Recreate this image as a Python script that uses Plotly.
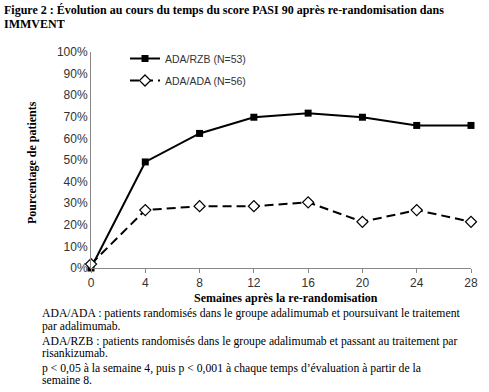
import plotly.graph_objects as go

weeks = [0, 4, 8, 12, 16, 20, 24, 28]
ada_rzb = [0.0, 0.491, 0.623, 0.698, 0.717, 0.698, 0.660, 0.660]
ada_ada = [0.018, 0.268, 0.286, 0.286, 0.304, 0.214, 0.268, 0.214]
series_names = ["ADA/RZB (N=53)", "ADA/ADA (N=56)"]
y_ticks = [0, 0.1, 0.2, 0.3, 0.4, 0.5, 0.6, 0.7, 0.8, 0.9, 1.0]
y_tick_labels = ["0%", "10%", "20%", "30%", "40%", "50%", "60%", "70%", "80%", "90%", "100%"]
x_ticks = [0, 4, 8, 12, 16, 20, 24, 28]

title_lines = [
    "Figure 2 : Évolution au cours du temps du score PASI 90 après re-randomisation dans",
    "IMMVENT",
]
y_title = "Pourcentage de patients"
x_title = "Semaines après la re-randomisation"
notes = [
    "ADA/ADA : patients randomisés dans le groupe adalimumab et poursuivant le traitement",
    "par adalimumab.",
    "ADA/RZB : patients randomisés dans le groupe adalimumab et passant au traitement par",
    "risankizumab.",
    "p < 0,05 à la semaine 4, puis p < 0,001 à chaque temps d’évaluation à partir de la",
    "semaine 8.",
]

W, H = 489, 392
L, R, T, B = 91, 18, 52, 124
PW, PH = W - L - R, H - T - B

def px(x):
    return (x - L) / PW

def py(y):
    return (H - B - y) / PH

fig = go.Figure()
fig.add_trace(go.Scatter(
    x=weeks, y=ada_rzb, name=series_names[0], mode="lines+markers",
    line=dict(color="black", width=2),
    marker=dict(symbol="square", size=7, color="black"),
    cliponaxis=False, legendgroup="a",
))
fig.add_trace(go.Scatter(
    x=weeks, y=ada_ada, name=series_names[1], mode="lines+markers",
    line=dict(color="black", width=2, dash="9px,5px"),
    marker=dict(symbol="diamond", size=8.5, color="white", line=dict(color="black", width=1.2)),
    cliponaxis=False, legendgroup="b",
))

serif = "Liberation Serif"
sans = "Liberation Sans"
ann = []
for i, t in enumerate(title_lines):
    ann.append(dict(text=f"<b>{t}</b>", x=px(2), y=py(10 + 14 * i), xref="paper", yref="paper",
                    xanchor="left", yanchor="middle", showarrow=False,
                    font=dict(family=serif, size=12, color="black")))
ann.append(dict(text=f"<b>{y_title}</b>", x=px(32), y=py(162), xref="paper", yref="paper",
                textangle=-90, xanchor="center", yanchor="middle", showarrow=False,
                font=dict(family=serif, size=12, color="black")))
ann.append(dict(text=f"<b>{x_title}</b>", x=px(286), y=py(298), xref="paper", yref="paper",
                xanchor="center", yanchor="middle", showarrow=False,
                font=dict(family=serif, size=12, color="black")))
note_y = [313, 326, 341, 353, 368, 380]
for t, yy in zip(notes, note_y):
    ann.append(dict(text=t, x=px(40), y=py(yy), xref="paper", yref="paper",
                    xanchor="left", yanchor="middle", showarrow=False,
                    font=dict(family=serif, size=11.7, color="black")))

fig.update_layout(
    width=W, height=H,
    margin=dict(l=L, r=R, t=T, b=B),
    paper_bgcolor="white", plot_bgcolor="white",
    showlegend=True,
    legend=dict(x=px(125), y=py(44), xanchor="left", yanchor="top",
                bgcolor="rgba(0,0,0,0)", font=dict(family=sans, size=10.5, color="#333"),
                tracegroupgap=3, itemwidth=30),
    annotations=ann,
    xaxis=dict(range=[0, 28], tickvals=x_ticks, showgrid=False, zeroline=False,
               showline=True, linecolor="#888", linewidth=1,
               ticks="outside", ticklen=4, tickcolor="#888",
               tickfont=dict(family=sans, size=12, color="#333")),
    yaxis=dict(range=[0, 1.0], tickvals=y_ticks, ticktext=y_tick_labels, showgrid=False,
               zeroline=False, showline=True, linecolor="#888", linewidth=1,
               ticks="", tickfont=dict(family=sans, size=12, color="#333")),
)
fig.write_html("out.html", config={"displayModeBar": False},
               post_script="document.body.style.margin='0';")
